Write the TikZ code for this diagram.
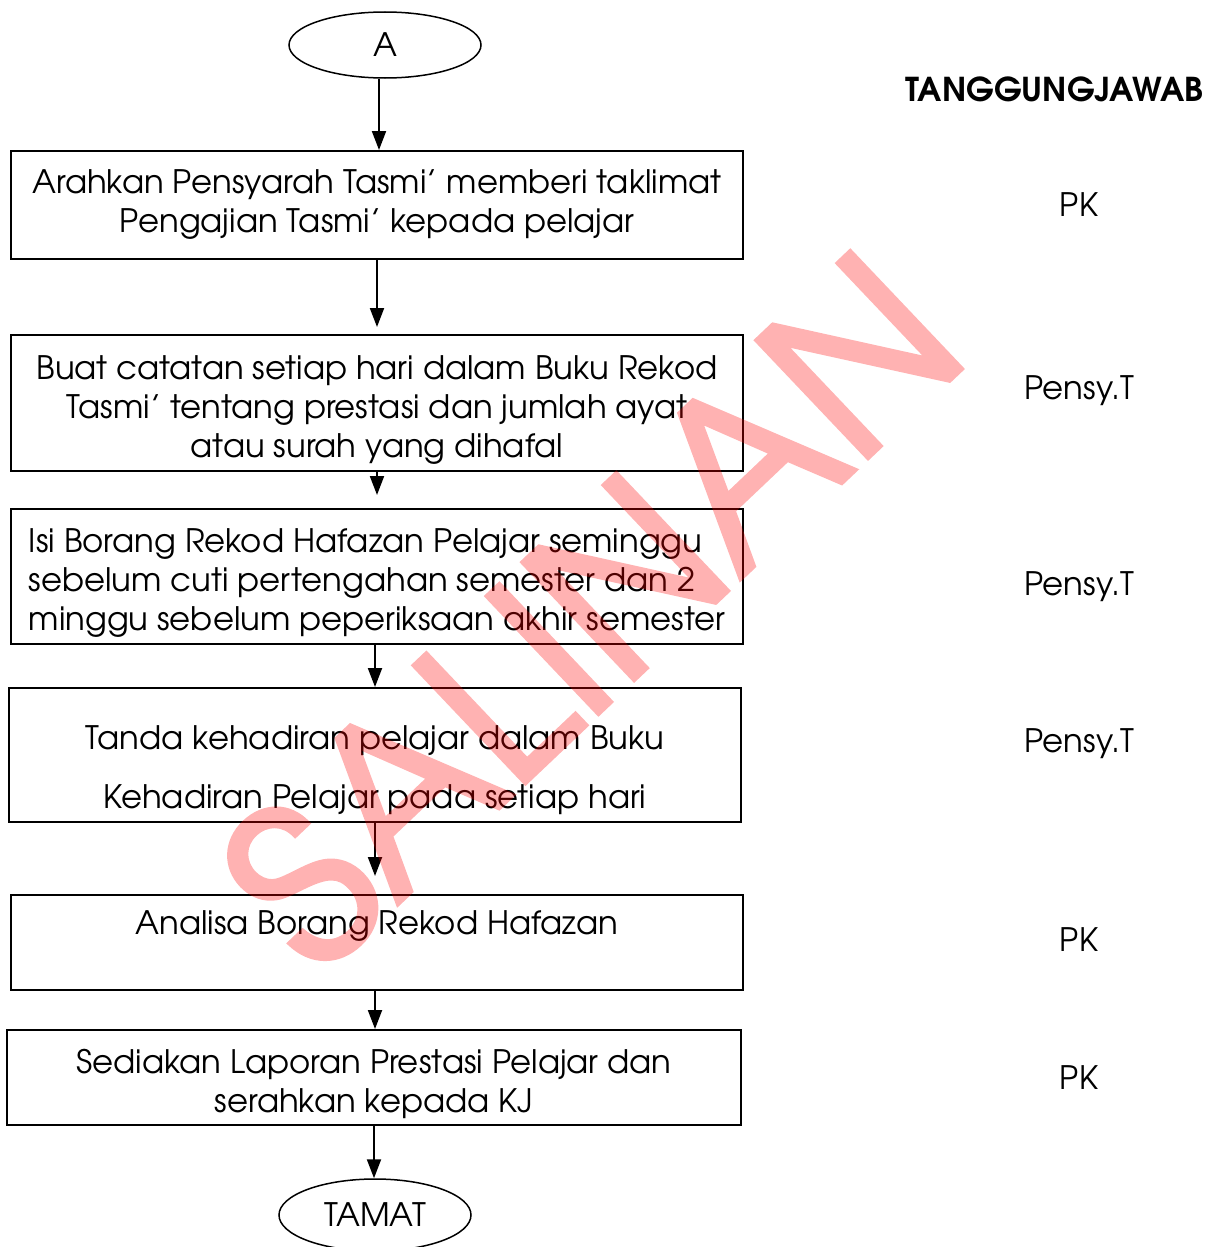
\documentclass[tikz,border=0pt]{standalone}
\usepackage{fontspec}
\setmainfont{TeX Gyre Adventor}
\newfontfamily\stampfont[FakeBold=2.5]{TeX Gyre Adventor}
\usetikzlibrary{shapes.geometric,arrows.meta}

\tikzstyle{process} = [rectangle, minimum width=14.64cm, align=center, draw=black, line width=0.04cm, inner xsep=0.2cm, font=\fontsize{18.4pt}{22.2pt}\selectfont]
\tikzstyle{terminal} = [ellipse, minimum width=3.84cm, minimum height=1.32cm, draw=black, line width=0.03cm, font=\fontsize{18.4pt}{22.2pt}\selectfont]
\tikzstyle{arrow} = [line width=0.04cm,-{Triangle[length=0.38cm,width=0.28cm]}]
\tikzstyle{pic} = [text centered, font=\fontsize{18.4pt}{22.2pt}\selectfont]
\tikzstyle{watermark} = [red, rotate=43.5, font=\stampfont\fontsize{124pt}{124pt}\selectfont]

\begin{document}
\begin{tikzpicture}
\useasboundingbox (0,0) rectangle (24.24,-24.94);

\node (start_A) [terminal] at (7.70,-0.90) {A};
\node (step1_taklimat) [process, minimum height=2.16cm] at (7.54,-4.10)
{Arahkan Pensyarah Tasmi’ memberi taklimat\\Pengajian Tasmi’ kepada pelajar};
\node (step2_catatan) [process, minimum height=2.72cm] at (7.54,-8.06)
{\rule{0pt}{0.75cm}Buat catatan setiap hari dalam Buku Rekod\\Tasmi’ tentang prestasi dan jumlah ayat\\atau surah yang dihafal};
\node (step3_borang) [process, minimum height=2.70cm, align=left] at (7.54,-11.53)
{\rule{0pt}{0.75cm}Isi Borang Rekod Hafazan Pelajar seminggu\\sebelum cuti pertengahan semester dan 2\\minggu sebelum peperiksaan akhir semester};
\node (step4_kehadiran) [process, minimum height=2.68cm] at (7.50,-15.10)
{\rule{0pt}{1.1cm}Tanda kehadiran pelajar dalam Buku\\[0.4cm]Kehadiran Pelajar pada setiap hari};
\node (step5_analisa) [process, minimum height=1.90cm] at (7.54,-18.85)
{Analisa Borang Rekod Hafazan\\\mbox{}};
\node (step6_laporan) [process, minimum width=14.68cm, minimum height=1.90cm] at (7.48,-21.55)
{\rule{0pt}{0.75cm}Sediakan Laporan Prestasi Pelajar dan\\serahkan kepada KJ};
\node (end_TAMAT) [terminal, minimum height=1.44cm] at (7.50,-24.30) {TAMAT};

% tanggungjawab
\node (pic_head) [pic, font=\fontsize{18.7pt}{22pt}\bfseries] at (21.09,-1.78) {TANGGUNGJAWAB};
\node (pic1_PK) [pic] at (21.58,-4.10) {PK};
\node (pic2_PensyT) [pic] at (21.58,-7.82) {Pensy.T};
\node (pic3_PensyT) [pic] at (21.58,-11.74) {Pensy.T};
\node (pic4_PensyT) [pic] at (21.58,-14.88) {Pensy.T};
\node (pic5_PK) [pic] at (21.58,-18.80) {PK};
\node (pic6_PK) [pic] at (21.58,-21.56) {PK};

\draw [arrow] ([xshift=-0.12cm]start_A.south) -- ([xshift=-0.12cm]start_A.south |- step1_taklimat.north);
\draw [arrow] (step1_taklimat.south) -- ([yshift=0.14cm]step2_catatan.north);
\draw [arrow] (step2_catatan.south) -- ([yshift=0.26cm]step3_borang.north);
\draw [arrow] ([xshift=-0.04cm]step3_borang.south) -- ([xshift=-0.04cm]step3_borang.south |- step4_kehadiran.north);
\draw [arrow] (step4_kehadiran.south) -- ([yshift=0.36cm]step4_kehadiran.south |- step5_analisa.north);
\draw [arrow] ([xshift=-0.04cm]step5_analisa.south) -- ([xshift=-0.04cm]step5_analisa.south |- step6_laporan.north);
\draw [arrow] (step6_laporan.south) -- (step6_laporan.south |- end_TAMAT.north);

%\node (stamp) [watermark] at (11.9,-11.5) {SALINAN};
\begin{scope}[transparency group, opacity=0.3]
\node (stamp_SALINAN) [watermark] at (11.8,-12.2) {SALINAN};
\end{scope}
\end{tikzpicture}
\end{document}
